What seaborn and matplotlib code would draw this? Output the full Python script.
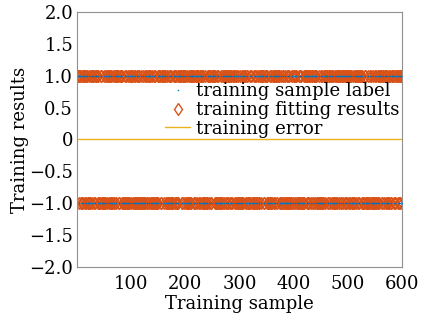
import matplotlib
matplotlib.use("Agg")
import matplotlib.pyplot as plt
import numpy as np
import pandas as pd
import seaborn as sns

# run lengths of alternating class labels (+1 first)
label_runs = [
    2, 1, 3, 2, 1, 1, 4, 2, 2, 3, 1, 2, 3, 1, 2, 2, 5, 1, 1, 3, 2, 4, 1, 3, 2, 1, 3, 2,
    2, 3, 1, 2, 3, 1, 4, 2, 3, 1, 1, 5, 2, 2, 1, 3, 2, 1, 3, 2, 2, 4, 1, 1, 2, 3, 1, 2,
    1, 4, 2, 2, 3, 1, 2, 3, 1, 2, 2, 5, 1, 1, 3, 2, 4, 1, 3, 2, 1, 3, 2, 2, 1, 3, 2, 1,
    2, 3, 1, 1, 5, 2, 2, 1, 3, 2, 1, 3, 2, 2, 4, 1, 1, 2, 3, 1, 2, 2, 3, 1, 2, 3, 1, 4,
    3, 1, 2, 2, 5, 1, 1, 3, 2, 4, 1, 3, 2, 1, 3, 2, 2, 1, 3, 2, 1, 1, 4, 2, 2, 3, 1, 2,
    1, 3, 2, 1, 3, 2, 2, 4, 1, 1, 2, 3, 1, 2, 2, 3, 1, 2, 3, 1, 4, 2, 3, 1, 1, 5, 2, 2,
    3, 2, 4, 1, 3, 2, 1, 3, 2, 2, 1, 3, 2, 1, 1, 4, 2, 2, 3, 1, 2, 3, 1, 2, 2, 5, 1, 1,
    4, 1, 1, 2, 3, 1, 2, 2, 3, 1, 2, 3, 1, 4, 2, 3, 1, 1, 5, 2, 2, 1, 3, 2, 1, 3, 2, 2,
    2, 1, 3, 2, 2, 1, 3, 2, 1, 1, 4, 2, 2, 3, 1, 2, 3, 1, 2, 2, 5, 1, 1, 3, 2, 4, 1, 3,
    2, 3, 1, 4, 2, 3, 1, 1, 5, 2, 2, 1, 3, 2, 1, 3, 2, 2, 4, 1, 1, 2, 3, 1, 2, 2, 3, 1,
]
run_values = [1, -1]

x_ticks = [100, 200, 300, 400, 500, 600]
y_ticks = [-2.0, -1.5, -1.0, -0.5, 0.0, 0.5, 1.0, 1.5, 2.0]
y_ticklabels = ["\u22122.0", "\u22121.5", "\u22121.0", "\u22120.5", "0",
                "0.5", "1.0", "1.5", "2.0"]

labels = np.concatenate([[run_values[i % 2]] * n for i, n in enumerate(label_runs)])
samples = np.arange(1, len(labels) + 1)
fitted = labels.copy()          # network output matches the labels
error = fitted - labels         # all zeros

df = pd.DataFrame({"sample": samples, "label": labels,
                   "fit": fitted, "error": error})

sns.set_style("white")
plt.rcParams["font.family"] = ["DejaVu Serif"]
plt.rcParams["text.color"] = "black"
plt.rcParams["xtick.labelcolor"] = "black"
plt.rcParams["ytick.labelcolor"] = "black"
plt.rcParams["axes.labelcolor"] = "black"

fig = plt.figure(figsize=(4.34, 3.21), dpi=100)
ax = fig.add_axes([0.178, 0.168, 0.748, 0.795])

sns.lineplot(data=df, x="sample", y="fit", ax=ax, linestyle="", marker="d",
             markersize=6.0, markerfacecolor="none", markeredgecolor="#D95319",
             markeredgewidth=1.0, label="training fitting results", zorder=2)
sns.lineplot(data=df, x="sample", y="label", ax=ax, linestyle="", marker=".",
             markersize=2.2, color="#0072BD", markeredgewidth=0,
             label="training sample label", zorder=3)
sns.lineplot(data=df, x="sample", y="error", ax=ax, color="#EDB120",
             linewidth=1.0, label="training error", zorder=1)

ax.set_xlim(0, 600)
ax.set_ylim(-2, 2)
ax.set_xticks(x_ticks)
ax.set_yticks(y_ticks)
ax.set_yticklabels(y_ticklabels)
ax.tick_params(direction="in", length=3, width=0.6, color="#808080",
               labelsize=13, top=False, right=False)
ax.tick_params(axis="x", pad=6)
ax.tick_params(axis="y", pad=3)
for side in ax.spines.values():
    side.set_color("#909090")
    side.set_linewidth(0.8)

ax.set_xlabel("Training sample", fontsize=13, labelpad=1)
ax.set_ylabel("Training results", fontsize=13, labelpad=0)

handles, names = ax.get_legend_handles_labels()
order = [1, 0, 2]
ax.legend([handles[i] for i in order], [names[i] for i in order],
          loc="upper right", bbox_to_anchor=(1.03, 0.775), frameon=False,
          fontsize=13, handlelength=1.4, handletextpad=0.3,
          labelspacing=0.05, borderpad=0.2, markerscale=1.0)

plt.savefig("out.png", dpi=100)
plt.close(fig)
